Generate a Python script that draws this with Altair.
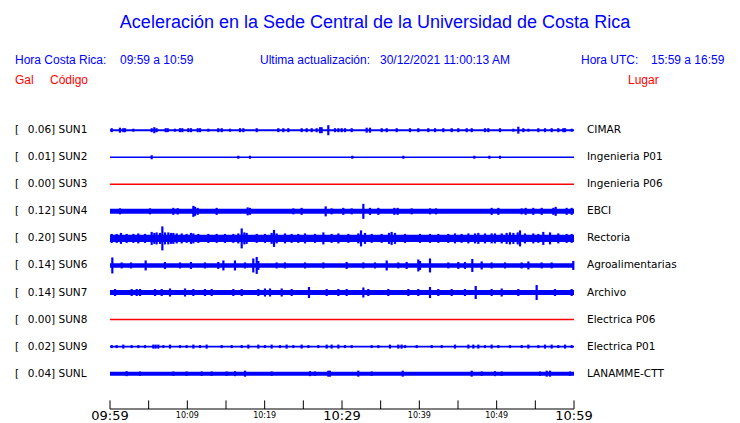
import altair as alt
import pandas as pd

# ---------------- data ----------------
CODES = ["SUN1", "SUN2", "SUN3", "SUN4", "SUN5", "SUN6", "SUN7", "SUN8", "SUN9", "SUNL"]
GAL = [0.06, 0.01, 0.00, 0.12, 0.20, 0.14, 0.14, 0.00, 0.02, 0.04]
PLACES = ["CIMAR", "Ingenieria P01", "Ingenieria P06", "EBCI", "Rectoria",
          "Agroalimentarias", "Archivo", "Electrica P06", "Electrica P01", "LANAMME-CTT"]
# background noise level of each trace (half height, px)
NOISE = [1.0, 0.8, 0.8, 2.5, 3.6, 2.3, 2.5, 0.8, 0.9, 2.0]

# bursts: (minute after 09:59, half amplitude px)
SPIKES = {
    "SUN1": [(0.22, 2), (1.29, 2.5), (1.72, 2), (1.94, 2), (3.02, 1.5), (5.39, 2), (5.73, 3), (6.03, 2),
             (7.2, 2), (7.46, 2), (8.4, 1.5), (9.05, 2), (9.35, 2), (10.13, 2), (10.47, 2), (11.34, 2),
             (11.64, 2), (12.72, 1.5), (14.0, 2), (14.44, 2), (15.52, 1.5), (16.81, 2), (17.24, 2),
             (18.97, 2), (21.77, 2), (22.41, 2), (23.06, 2), (24.78, 2), (25.43, 2), (26.08, 2),
             (26.72, 2), (27.16, 3), (27.37, 3), (28.23, 5), (29.09, 2), (29.53, 2), (29.96, 2),
             (30.39, 2), (31.25, 2), (33.19, 2.5), (33.62, 2.5), (35.13, 2), (35.78, 2), (37.07, 2),
             (38.79, 2), (39.87, 2), (41.16, 2), (42.03, 2), (43.1, 2), (44.18, 2), (45.04, 2),
             (46.12, 2), (46.77, 2), (48.49, 2), (48.92, 2), (50.43, 2), (52.16, 1.5), (52.8, 3.5),
             (53.45, 2), (54.1, 1.5), (55.39, 2), (56.25, 2), (57.11, 2), (57.97, 2), (58.62, 2),
             (58.84, 2), (59.7, 1.5)],
    "SUN2": [(5.39, 2), (16.59, 1.5), (18.1, 1.5), (31.34, 1.5), (37.93, 1.5), (47.11, 1.5),
             (49.05, 1.5), (50.43, 1.5)],
    "SUN3": [],
    "SUN4": [(1.29, 3), (5.17, 3), (8.19, 3.5), (8.75, 3.2), (10.78, 5.5), (10.99, 4.5), (11.34, 3.5),
             (13.79, 3.5), (17.8, 4), (18.1, 3.5), (23.71, 3), (24.78, 3.5), (27.89, 5), (28.66, 3),
             (30.17, 3.5), (31.25, 3), (32.76, 7.5), (33.62, 3.5), (34.7, 3.5), (36.77, 3.5), (37.2, 3.5),
             (39.01, 3), (41.38, 3), (42.16, 3), (49.35, 3.5), (50.22, 3.5), (53.23, 3),
             (53.75, 3.5), (54.74, 3.5), (55.82, 3.5), (57.33, 3.5), (57.63, 4.5), (59.05, 3.5), (59.7, 3.5)],
    "SUN5": [(0.22, 4.5), (0.86, 4.5), (1.42, 5.5), (2.16, 4.5), (3.02, 4.5), (3.66, 5), (4.53, 4.5),
             (5.39, 6.5), (5.73, 5.5), (6.03, 6), (6.47, 5.5), (6.77, 12), (7.11, 6), (7.54, 6),
             (7.89, 5.5), (8.19, 5.5), (8.62, 5), (9.27, 5), (9.91, 4.5), (10.47, 5.5), (10.78, 5),
             (11.42, 4.5), (12.72, 4.5), (13.79, 4.5), (14.87, 4.5), (15.95, 4.5), (16.59, 5),
             (17.03, 10), (17.37, 6), (17.67, 5.5), (18.97, 4.5), (20.04, 4.5), (20.9, 5.5),
             (21.21, 8.5), (21.55, 5), (22.63, 5), (23.49, 4.5), (24.35, 4.5), (25.22, 5),
             (26.51, 4.5), (27.59, 6), (28.66, 4.5), (29.53, 5), (30.82, 4.5), (32.11, 5),
             (32.46, 8), (32.97, 5.5), (33.84, 4.5), (35.13, 4.5), (36.08, 5.5), (36.42, 6.5),
             (36.85, 5.5), (38.15, 4.5), (40.09, 4.5), (41.38, 4.5), (42.46, 4.5), (43.75, 4.5),
             (44.61, 5), (45.47, 4.5), (46.34, 5), (47.2, 5), (47.63, 5.5), (48.49, 5), (49.35, 5),
             (49.78, 5), (50.65, 5), (51.29, 5.5), (51.72, 6), (52.16, 5.5), (52.72, 6), (53.02, 8),
             (53.66, 5), (54.74, 5), (55.39, 4.5), (56.03, 6.5), (56.9, 6), (57.97, 5), (59.05, 4.5),
             (59.7, 4.5)],
    "SUN6": [(0.3, 8), (1.51, 3), (2.72, 3), (4.61, 5), (7.11, 3.5), (9.05, 3), (10.47, 3.5),
             (12.28, 3), (14.0, 3.5), (14.66, 5), (16.16, 5), (17.46, 3), (18.53, 7),
             (18.97, 8.5), (19.18, 4.5), (21.55, 3), (22.63, 3), (25.22, 3), (27.59, 3),
             (30.6, 3.5), (32.76, 3), (34.27, 3), (35.78, 5), (37.28, 3), (38.36, 3.5),
             (39.87, 6), (40.09, 4.5), (41.38, 7), (43.75, 3), (45.04, 3.5), (45.9, 3.5), (46.85, 6.5),
             (48.06, 4), (49.35, 3), (51.08, 3), (53.23, 3), (54.1, 4), (55.82, 3),
             (57.11, 3), (59.91, 4.5)],
    "SUN7": [(0.65, 3.5), (2.8, 3.5), (3.45, 3.5), (3.88, 3.5), (5.82, 3.5), (6.68, 3.5), (7.76, 4),
             (9.7, 4), (10.78, 3.5), (12.28, 3.5), (13.15, 3.5), (15.95, 3.5), (17.03, 3.5), (19.18, 3.5),
             (20.04, 4), (20.69, 4), (22.2, 4), (23.49, 3.5), (25.73, 5.5), (28.02, 3.5),
             (29.53, 3.5), (30.6, 3.5), (32.76, 5), (33.4, 3.5), (35.99, 3.5), (38.58, 3.5), (39.87, 3.5),
             (41.38, 5.5), (42.46, 3.5), (44.18, 3.5), (45.9, 3.5), (47.29, 6.5), (49.35, 3.5),
             (50.65, 4), (52.8, 3.5), (55.17, 7.5), (57.54, 3.5), (59.7, 3.5)],
    "SUN8": [],
    "SUN9": [(0.22, 1.5), (0.86, 1.5), (1.72, 2), (2.8, 1.5), (3.66, 1.5), (4.53, 1.5), (5.6, 2),
             (5.9, 2), (6.25, 2), (6.9, 1.5), (7.76, 2), (9.05, 1.5), (9.91, 1.5), (10.78, 2),
             (11.64, 1.5), (12.5, 2), (14.44, 1.5), (15.73, 1.5), (17.03, 1.5), (17.89, 2),
             (19.18, 2), (20.04, 1.5), (20.9, 2), (21.98, 1.5), (22.84, 2), (23.71, 1.5),
             (24.78, 2), (25.65, 1.5), (26.94, 1.5), (28.02, 2), (28.66, 2), (29.53, 2), (30.39, 1.5),
             (31.25, 1.5), (33.84, 1.5), (34.7, 1.5), (36.2, 2), (37.28, 2), (37.71, 2), (38.15, 1.5),
             (39.66, 1.5), (41.6, 1.5), (42.89, 1.5), (44.61, 2), (46.34, 2), (46.98, 2), (47.63, 2),
             (48.49, 1.5), (49.35, 2), (50.22, 1.5), (51.72, 1.5), (53.23, 1.5), (54.1, 2),
             (55.39, 1.5), (56.25, 2), (57.11, 2), (57.97, 1.5), (58.84, 2), (59.7, 1.5)],
    "SUNL": [(2.16, 2.5), (3.88, 2.2), (8.19, 2.2), (9.91, 2.2), (11.85, 2.2), (13.15, 2.2), (15.09, 2.2),
             (16.16, 2.5), (17.46, 3), (20.9, 2.2), (25.86, 2.5), (26.51, 2.2), (28.23, 3), (28.44, 3),
             (32.11, 3), (33.84, 2.2), (37.85, 3), (46.77, 3), (48.06, 2.2), (49.78, 2.5), (50.65, 2.2),
             (55.6, 2.2), (56.47, 3), (56.9, 3), (59.48, 2.2)],
}

TICK_MINUTES = [0, 5, 10, 15, 20, 25, 30, 35, 40, 45, 50, 55, 60]
BIG_LABEL_MIN = [0, 30, 60]
BIG_LABELS = ["09:59", "10:29", "10:59"]
SMALL_LABEL_MIN = [10, 20, 40, 50]
SMALL_LABELS = ["10:09", "10:19", "10:39", "10:49"]

# ---------------- layout ----------------
W, H = 724, 415
X0 = 102.0              # plot px of 09:59
PPM = 464.0 / 60.0      # px per minute
ROW0 = 122.2            # plot px of first trace
ROWPX = 27.05           # px between traces
BLUE = "#0000ff"
RED = "#ff0000"

xs = alt.Scale(domain=[-X0 / PPM, (W - X0) / PPM], nice=False, zero=False)
ys = alt.Scale(domain=[-ROW0 / ROWPX, (H - ROW0) / ROWPX], nice=False, zero=False, reverse=True)

rows = pd.DataFrame({"code": CODES, "gal": GAL, "place": PLACES, "noise": NOISE})
rows["row"] = range(len(rows))
rows["color"] = [RED if g == 0 else BLUE for g in GAL]
rows["lo"] = rows["row"] - rows["noise"] / ROWPX
rows["hi"] = rows["row"] + rows["noise"] / ROWPX
rows["start"] = 0.0
rows["end"] = 60.0
rows["lbl"] = [f"{g:.2f}] {c}" for g, c in zip(GAL, CODES)]

sp = []
for i, c in enumerate(CODES):
    for m, a in SPIKES[c]:
        sp.append({"row": i, "m": m, "lo": i - a / ROWPX, "hi": i + a / ROWPX, "color": rows["color"][i]})
spikes = pd.DataFrame(sp)

X = lambda f: alt.X(f, type="quantitative", scale=xs, axis=None)
Y = lambda f: alt.Y(f, type="quantitative", scale=ys, axis=None)

bands = alt.Chart(rows).mark_rect().encode(
    x=X("start"), x2="end", y=Y("lo"), y2="hi", color=alt.Color("color:N", scale=None))
spk = alt.Chart(spikes).mark_rule(strokeWidth=2.2).encode(
    x=X("m"), y=Y("lo"), y2="hi", color=alt.Color("color:N", scale=None))

bracket = alt.Chart(rows).mark_text(align="left", baseline="middle", font="DejaVu Sans",
                                    fontSize=10.5, color="#000").encode(
    x=alt.value(7), y=Y("row"), text=alt.value("["))
codes = alt.Chart(rows).mark_text(align="left", baseline="middle", font="DejaVu Sans",
                                  fontSize=10.5, color="#000").encode(
    x=alt.value(19.7), y=Y("row"), text="lbl:N")
places = alt.Chart(rows).mark_text(align="left", baseline="middle", font="DejaVu Sans",
                                   fontSize=10.5, color="#000").encode(
    x=alt.value(579), y=Y("row"), text="place:N")

AX_ROW = (409 - 130.2) / ROWPX
TICK_LEN = 8.6 / ROWPX
axis_line = alt.Chart(pd.DataFrame({"a": [0.0], "b": [60.0], "y": [AX_ROW]})).mark_rule(
    color="#000", strokeWidth=1).encode(x=X("a"), x2="b", y=Y("y"))
ticks_df = pd.DataFrame({"m": TICK_MINUTES})
ticks_df["y"] = AX_ROW
ticks_df["y2"] = AX_ROW - TICK_LEN
ticks = alt.Chart(ticks_df).mark_rule(color="#000", strokeWidth=1).encode(
    x=X("m"), y=Y("y"), y2="y2")
big_df = pd.DataFrame({"m": BIG_LABEL_MIN, "t": BIG_LABELS, "y": (420.3 - 130.2) / ROWPX})
big = alt.Chart(big_df).mark_text(align="center", baseline="alphabetic", font="DejaVu Sans",
                                  fontSize=13, color="#000").encode(x=X("m"), y=Y("y"), text="t:N")
small_df = pd.DataFrame({"m": SMALL_LABEL_MIN, "t": SMALL_LABELS, "y": (417.5 - 130.2) / ROWPX})
small = alt.Chart(small_df).mark_text(align="center", baseline="alphabetic", font="DejaVu Sans",
                                      fontSize=8, color="#000").encode(x=X("m"), y=Y("y"), text="t:N")


def label(text, px, py, size=12, color=BLUE, align="left", font="Liberation Sans"):
    return alt.Chart(pd.DataFrame({"t": [text]})).mark_text(
        align=align, baseline="middle", font=font, fontSize=size, color=color).encode(
        x=alt.value(px - 8), y=alt.value(py - 8), text="t:N")


header = [
    label("Aceleración en la Sede Central de la Universidad de Costa Rica", 375, 23, size=18, align="center"),
    label("Hora Costa Rica:", 15, 60),
    label("09:59 a 10:59", 120, 60),
    label("Ultima actualización:", 260, 60),
    label("30/12/2021 11:00:13 AM", 380, 60),
    label("Hora UTC:", 581, 60),
    label("15:59 a 16:59", 651, 60),
    label("Gal", 15, 80, color=RED),
    label("Código", 50, 80, color=RED),
    label("Lugar", 628, 80, color=RED),
]

chart = alt.layer(bands, spk, bracket, codes, places, axis_line, ticks, big, small, *header).properties(
    width=W, height=H, autosize=alt.AutoSizeParams(type="none"), padding=0, background="white"
).configure_view(stroke=None, strokeWidth=0)

chart.save("out.html", embed_options={"renderer": "svg", "actions": False})
